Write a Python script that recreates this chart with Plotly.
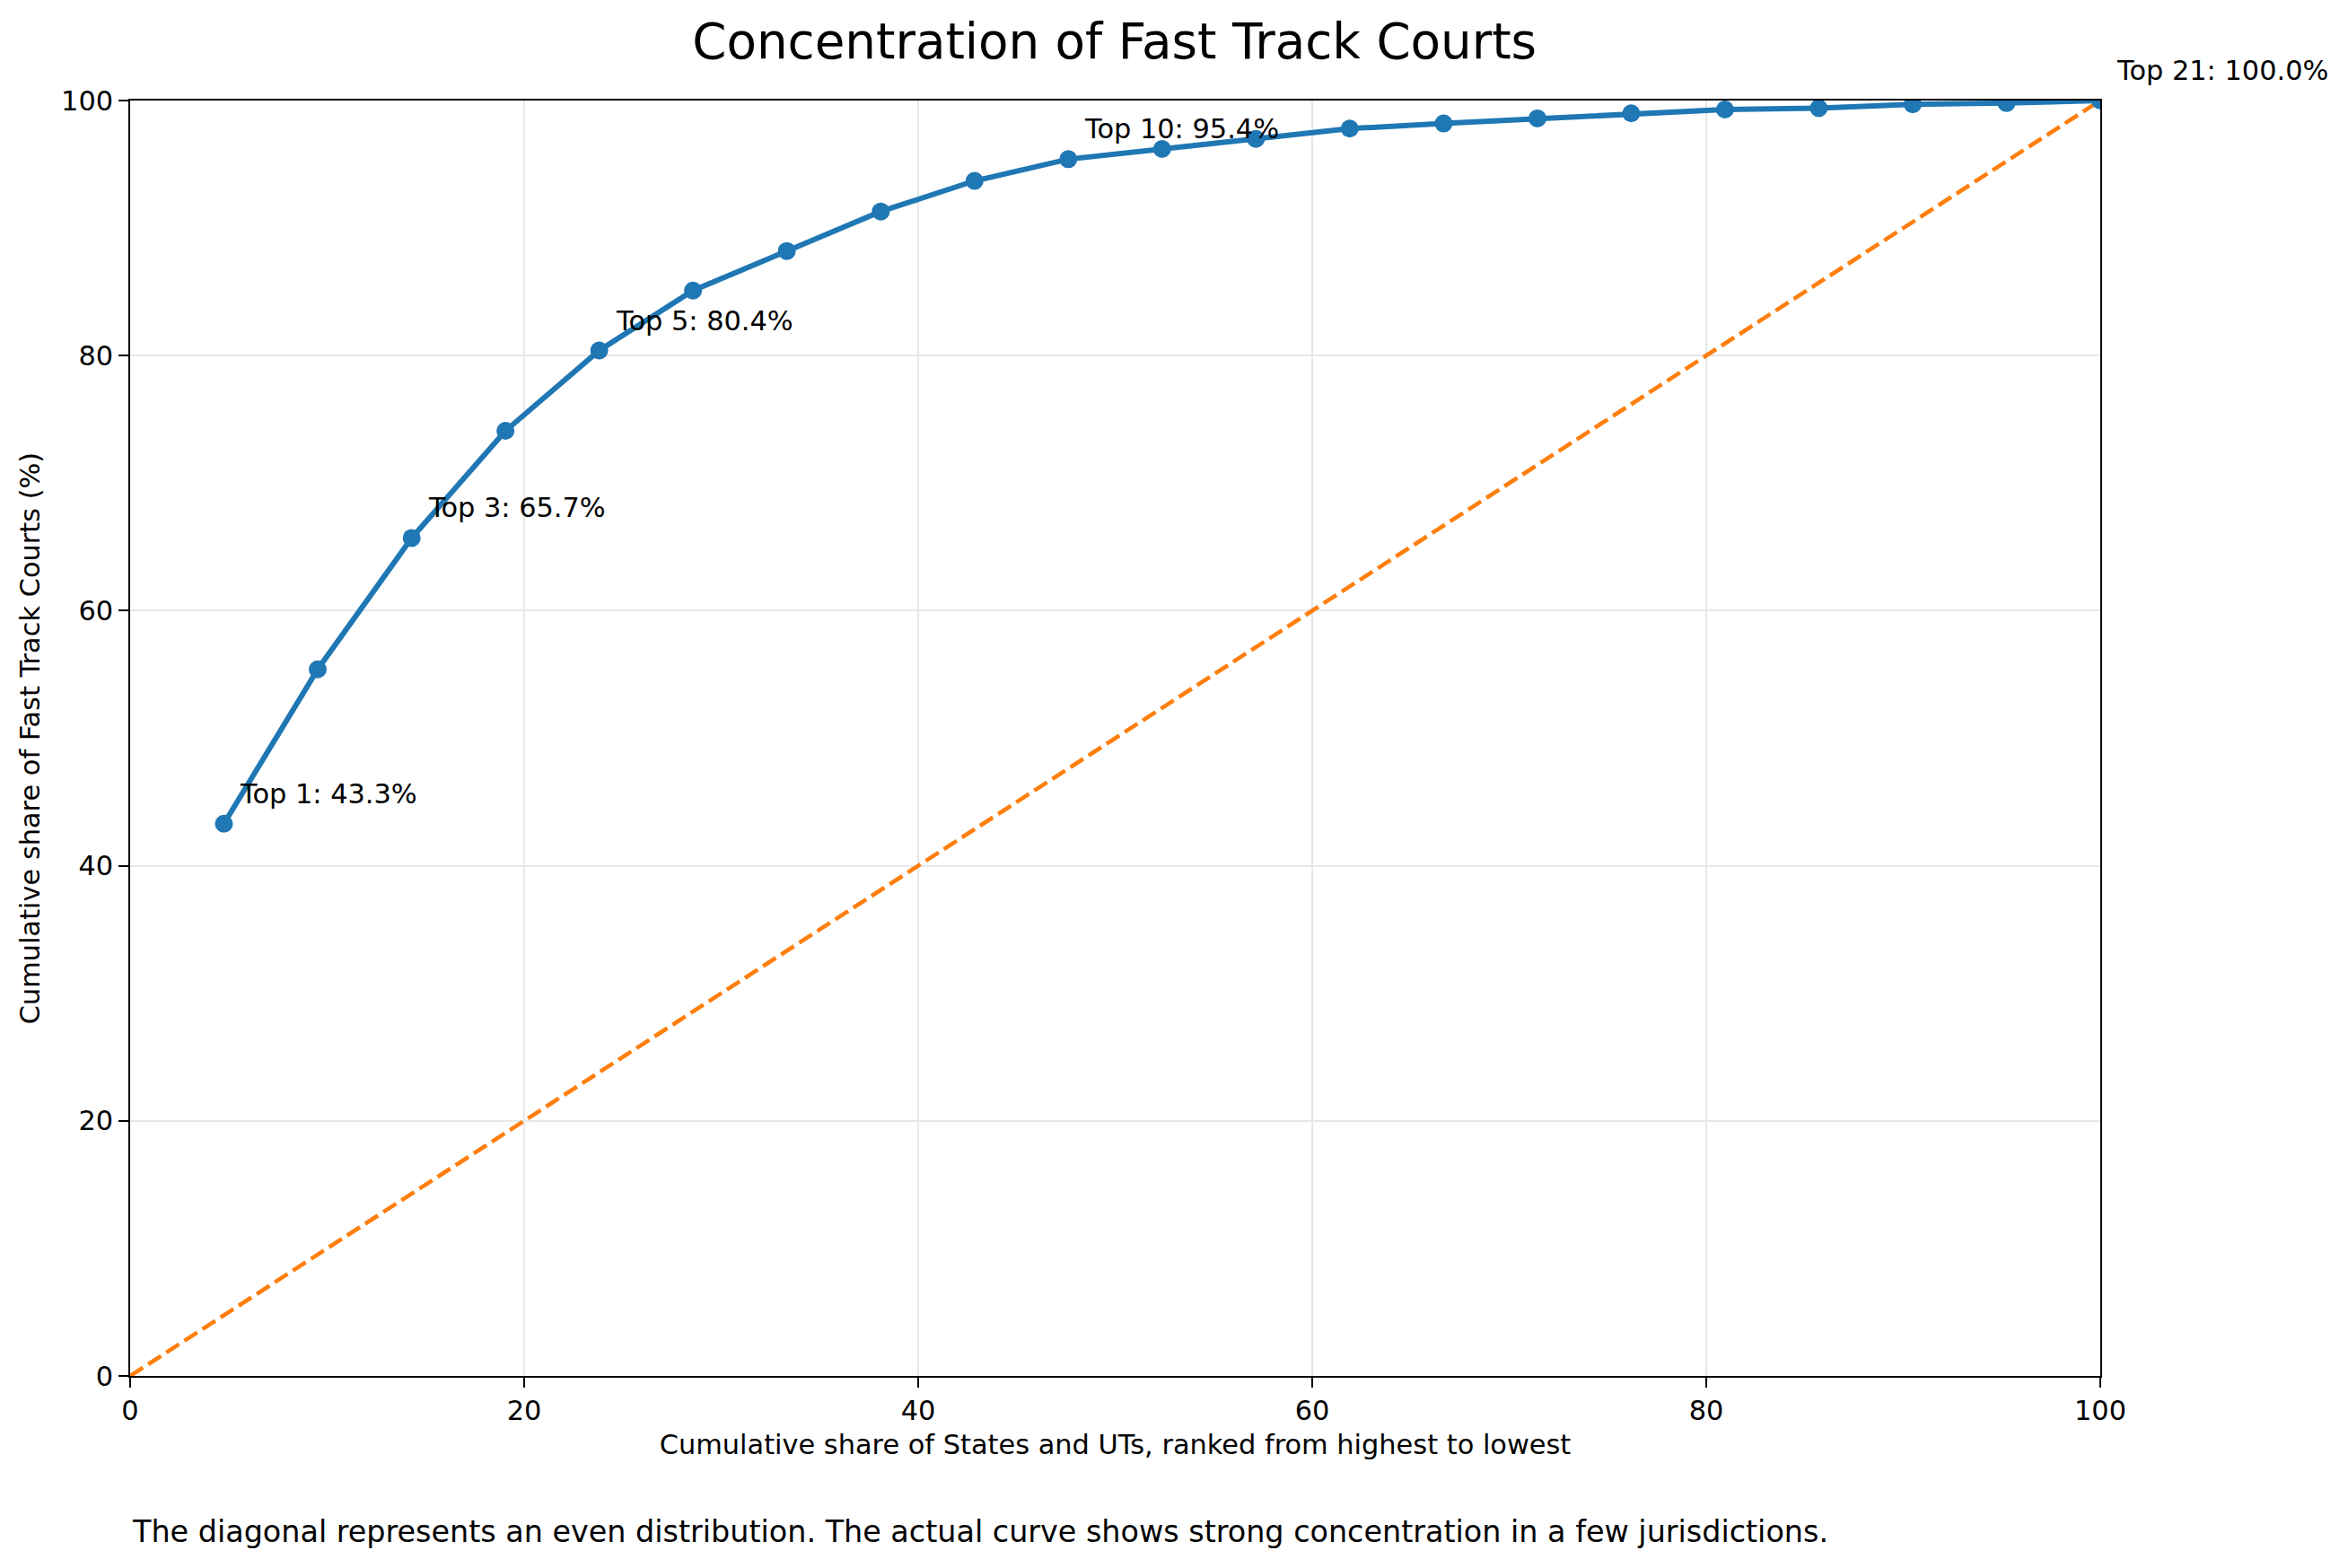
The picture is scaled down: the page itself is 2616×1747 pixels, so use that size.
import plotly.graph_objects as go

# cumulative share of States/UTs (%), ranked highest to lowest
state_share = [4.76, 9.52, 14.29, 19.05, 23.81, 28.57, 33.33, 38.10, 42.86, 47.62,
               52.38, 57.14, 61.90, 66.67, 71.43, 76.19, 80.95, 85.71, 90.48, 95.24,
               100.0]
# cumulative share of Fast Track Courts (%)
court_share = [43.3, 55.4, 65.7, 74.1, 80.4, 85.1, 88.2, 91.3, 93.7, 95.4,
               96.2, 97.0, 97.8, 98.2, 98.6, 99.0, 99.3, 99.4, 99.7, 99.8,
               100.0]
equal_line = [0, 100]
label_ranks = [1, 3, 5, 10, 21]

FONT = "DejaVu Sans"
BLUE = "#1f77b4"
ORANGE = "#ff7f0e"

fig = go.Figure()
fig.add_trace(go.Scatter(
    x=equal_line, y=equal_line, mode="lines",
    line=dict(color=ORANGE, width=4.6, dash="17px,7px"),
    showlegend=False,
))
fig.add_trace(go.Scatter(
    x=state_share, y=court_share, mode="lines+markers",
    line=dict(color=BLUE, width=6),
    marker=dict(color=BLUE, size=20),
    showlegend=False,
))

for k in label_ranks:
    fig.add_annotation(
        x=state_share[k - 1], y=court_share[k - 1],
        text=f"Top {k}: {court_share[k - 1]:.1f}%",
        showarrow=False, xanchor="left", yanchor="bottom",
        xshift=16, yshift=14,
        font=dict(family=FONT, size=30.4, color="black"),
    )

fig.add_annotation(
    xref="paper", yref="paper", x=0, y=-0.122,
    text="The diagonal represents an even distribution. The actual curve shows strong concentration in a few jurisdictions.",
    showarrow=False, xanchor="left", yanchor="middle",
    font=dict(family=FONT, size=33.4, color="black"),
)

axis_style = dict(
    range=[0, 100], tickmode="array", tickvals=[0, 20, 40, 60, 80, 100],
    showline=True, linecolor="black", linewidth=2.4, mirror=True,
    ticks="outside", ticklen=10.6, tickwidth=2.4, tickcolor="black",
    showgrid=True, gridcolor="#e7e7e7", gridwidth=2.3,
    zeroline=False,
    tickfont=dict(family=FONT, size=30.4, color="black"),
)

fig.update_xaxes(
    **axis_style,
    title=dict(text="Cumulative share of States and UTs, ranked from highest to lowest",
               font=dict(family=FONT, size=30.4, color="black"), standoff=10),
)
fig.update_yaxes(
    **axis_style,
    title=dict(text="Cumulative share of Fast Track Courts (%)",
               font=dict(family=FONT, size=30.4, color="black"), standoff=14),
)

# the page body adds 8px around the figure, so the figure is 16px smaller
fig.update_layout(
    width=2600, height=1731,
    margin=dict(l=137, r=268, t=104, b=206),
    paper_bgcolor="white", plot_bgcolor="white",
    title=dict(text="Concentration of Fast Track Courts", x=0.4745, xanchor="center",
               y=1 - 38 / 1731, yanchor="middle",
               font=dict(family=FONT, size=54.7, color="black")),
    font=dict(family=FONT, color="black"),
)

fig.write_html("out.html")
